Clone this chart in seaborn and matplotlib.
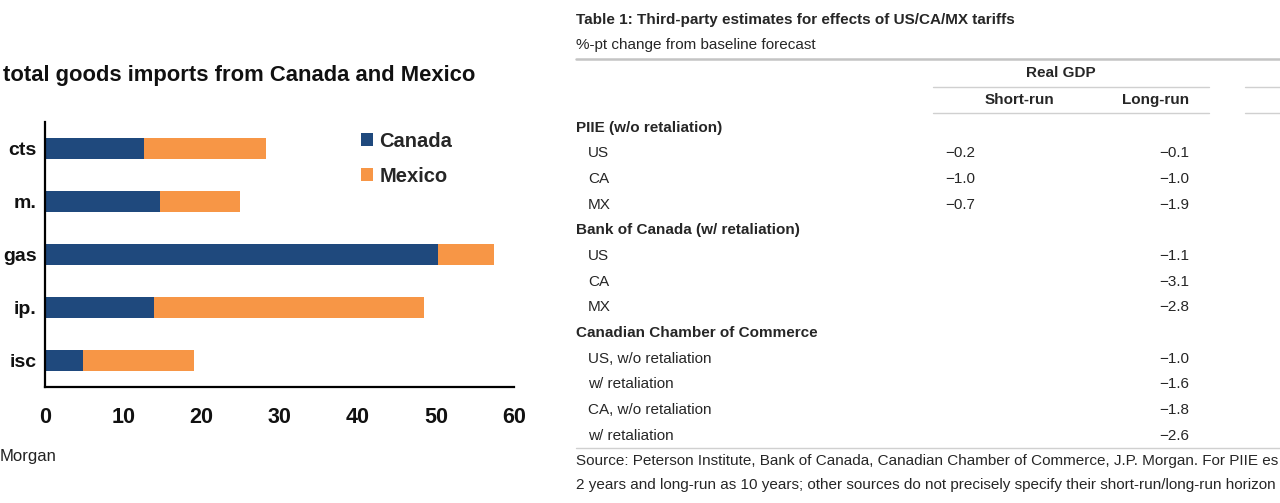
import numpy as np
import pandas as pd
import matplotlib
matplotlib.use("Agg")
import matplotlib.pyplot as plt
import seaborn as sns

# --- chart data: share of total goods imports (%) ---
categories = ['cts', 'm.', 'gas', 'ip.', 'isc']
canada = [12.7, 14.7, 50.3, 13.9, 4.8]
mexico = [15.6, 10.2, 7.2, 34.6, 14.3]
x_ticks = [0, 10, 20, 30, 40, 50, 60]

# --- table data: %-pt change from baseline forecast ---
groups = ['PIIE (w/o retaliation)', 'Bank of Canada (w/ retaliation)',
          'Canadian Chamber of Commerce']
row_labels = [['US', 'CA', 'MX'],
              ['US', 'CA', 'MX'],
              ['US, w/o retaliation', 'w/ retaliation', 'CA, w/o retaliation', 'w/ retaliation']]
short_run = [[-0.2, -1.0, -0.7], [None, None, None], [None, None, None, None]]
long_run = [[-0.1, -1.0, -1.9], [-1.1, -3.1, -2.8], [-1.0, -1.6, -1.8, -2.6]]

# source note, as far as it is visible in the crop
source_lines = [
    'Source: Peterson Institute, Bank of Canada, Canadian Chamber of Commerce, J.P. Morgan. For PIIE es',
    '2 years and long-run as 10 years; other sources do not precisely specify their short-run/long-run horizon',
]

CANADA_COL = '#1F497D'
MEXICO_COL = '#F79646'

sns.set_style("white")
plt.rcParams['font.family'] = ['Liberation Sans', 'DejaVu Sans']

W, H = 1280, 503
fig = plt.figure(figsize=(W / 100, H / 100), dpi=100)


def fy(y):
    return 1 - y / H


# --- left: stacked bar chart ---
df = pd.DataFrame({'cat': categories, 'Canada': canada, 'Mexico': mexico})
df['total'] = df['Canada'] + df['Mexico']

ax = fig.add_axes([45 / W, fy(387), (514 - 45) / W, (387 - 122) / H])
sns.barplot(data=df, x='total', y='cat', color=MEXICO_COL, width=0.4,
            saturation=1, linewidth=0, ax=ax, label='Mexico')
sns.barplot(data=df, x='Canada', y='cat', color=CANADA_COL, width=0.4,
            saturation=1, linewidth=0, ax=ax, label='Canada')

ax.set_xlim(0, 60)
ax.set_ylim(len(categories) - 0.5, -0.5)
ax.set_xticks(x_ticks)
ax.set_yticks(np.arange(-0.5, len(categories), 1), minor=True)
ax.set_xlabel('')
ax.set_ylabel('')
for s in ['top', 'right']:
    ax.spines[s].set_visible(False)
for s in ['left', 'bottom']:
    ax.spines[s].set_linewidth(1.6)
    ax.spines[s].set_color('black')
ax.tick_params(axis='y', which='major', length=0, pad=6)
ax.tick_params(axis='y', which='minor', length=4, width=1.6, direction='out')
ax.tick_params(axis='x', which='major', length=4, width=1.6, direction='out', pad=10.5)
for lab in ax.get_xticklabels():
    lab.set_fontsize(15.5)
    lab.set_fontweight('bold')
    lab.set_color('#111111')
for lab in ax.get_yticklabels():
    lab.set_fontsize(14)
    lab.set_fontweight('bold')
    lab.set_color('#111111')

handles, labels = ax.get_legend_handles_labels()
ax.legend(handles[::-1], labels[::-1], loc='upper left',
          bbox_to_anchor=(361 / W, fy(132)), bbox_transform=fig.transFigure,
          frameon=False, prop={'size': 14.5, 'weight': 'bold'},
          borderpad=0, borderaxespad=0,
          handlelength=0.62, handleheight=0.62, handletextpad=0.3, labelspacing=0.78)

fig.text(3 / W, fy(75), 'total goods imports from Canada and Mexico',
         fontsize=15.8, fontweight='bold', va='center', color='#111111')
fig.text(0, fy(457), 'Morgan', fontsize=12, va='center', color='#222222')

# --- right: table ---
tax = fig.add_axes([576 / W, 0, (W - 576) / W, 1])
tax.set_xlim(576, W)
tax.set_ylim(H, 0)
tax.axis('off')

fs = 11
tax.text(576, 20, 'Table 1: Third-party estimates for effects of US/CA/MX tariffs',
         fontsize=fs, fontweight='bold', va='center')
tax.text(576, 45, '%-pt change from baseline forecast', fontsize=fs, va='center')
tax.plot([576, W], [59, 59], color='#c4c4c4', lw=1.8, clip_on=False)

for x0, x1 in [(933, 1209), (1245, W)]:
    for yl in [87, 113]:
        tax.plot([x0, x1], [yl, yl], color='#d0d0d0', lw=1.0, clip_on=False)
tax.text(1061, 73, 'Real GDP', fontsize=fs, fontweight='bold', ha='center', va='center')
tax.text(1019, 100, 'Short-run', fontsize=fs, fontweight='bold', ha='center', va='center')
tax.text(1189, 100, 'Long-run', fontsize=fs, fontweight='bold', ha='right', va='center')


def fmt(v):
    return f'{v:.1f}'.replace('-', '\u2212')


row_h = 25.7
y = 127.5
for g, labs, srs, lrs in zip(groups, row_labels, short_run, long_run):
    tax.text(576, y, g, fontsize=fs, fontweight='bold', va='center')
    y += row_h
    for lab, sv, lv in zip(labs, srs, lrs):
        tax.text(588, y, lab, fontsize=fs, va='center')
        if sv is not None:
            tax.text(945, y, fmt(sv), fontsize=fs, ha='left', va='center')
        if lv is not None:
            tax.text(1189, y, fmt(lv), fontsize=fs, ha='right', va='center')
        y += row_h

tax.plot([576, W], [448, 448], color='#d0d0d0', lw=1.0, clip_on=False)
for i, line in enumerate(source_lines):
    tax.text(576, 461 + i * 24.5, line, fontsize=fs, va='center')

fig.savefig('out.png', dpi=100)
